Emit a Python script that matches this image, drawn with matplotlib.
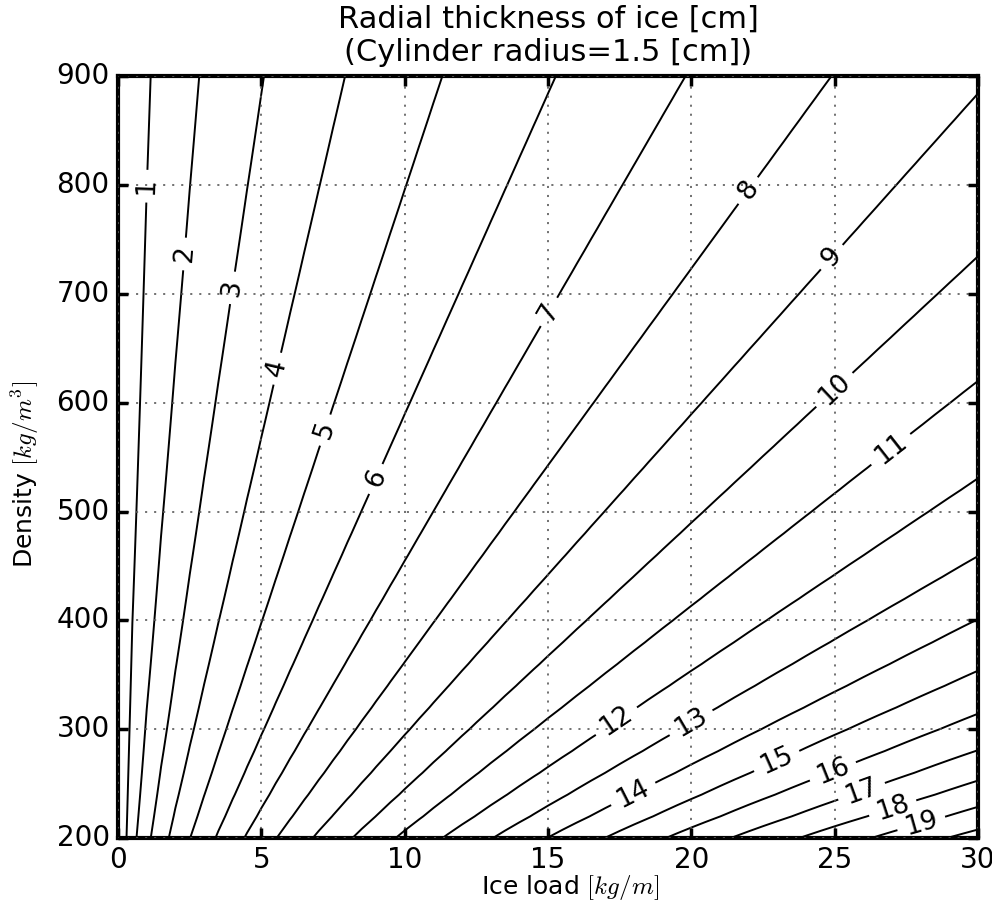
import matplotlib
matplotlib.use('Agg')
import matplotlib.pyplot as plt
import numpy as np

plt.style.use('classic')

# cylinder radius [cm] and contour levels of radial ice thickness [cm]
radius = 1.5
levels = list(range(1, 21))
label_levels = list(range(1, 20))

# ice load [kg/m] and density [kg/m^3] ranges
load = np.linspace(0, 30, 61)
density = np.linspace(200, 900, 36)

# where the inline labels sit (ice load, density)
label_pos = [(0.94, 799), (2.16, 737), (3.87, 706), (5.44, 632), (6.98, 577),
             (8.9, 531), (14.93, 685), (21.87, 797), (24.8, 736), (24.84, 616),
             (26.9, 559), (17.37, 308), (19.92, 309), (17.9, 244), (22.92, 274),
             (24.94, 261), (25.95, 242), (27.03, 227), (27.98, 217)]

W, RHO = np.meshgrid(load, density)
# ice area in cm^2 -> equivalent radial thickness around the cylinder
area = W / (np.pi * RHO) * 1e4
thickness = np.sqrt(radius ** 2 + area) - radius

fig = plt.figure(figsize=(9.92, 9.18), dpi=100, facecolor='white')
ax = fig.add_axes([0.119, 0.087, 0.867, 0.830])

cs = ax.contour(W, RHO, thickness, levels=levels, colors='k', linewidths=1.4)
ax.clabel(cs, levels=label_levels, inline=True, inline_spacing=8, fmt='%d',
          fontsize=19, manual=label_pos)

ax.set_xlim(0, 30)
ax.set_ylim(200, 900)
ax.set_xticks([0, 5, 10, 15, 20, 25, 30])
ax.set_yticks([200, 300, 400, 500, 600, 700, 800, 900])
ax.grid(True, linestyle=(0, (1.5, 5)), color='0.35', linewidth=1.2)
ax.tick_params(labelsize=20, direction='in', length=7, width=2.5, top=True, right=True, pad=6)
for sp in ax.spines.values():
    sp.set_linewidth(3)

ax.set_xlabel('Ice load $[kg/m]$', fontsize=18)
ax.set_ylabel('Density $[kg/m^3]$', fontsize=18)
ax.xaxis.set_label_coords(0.526, -0.046)
ax.yaxis.set_label_coords(-0.090, 0.478)
ax.set_title('Radial thickness of ice [cm]\n(Cylinder radius=%.1f [cm])' % radius,
             fontsize=22, pad=11)

fig.savefig('out.png', dpi=100, facecolor='white')
